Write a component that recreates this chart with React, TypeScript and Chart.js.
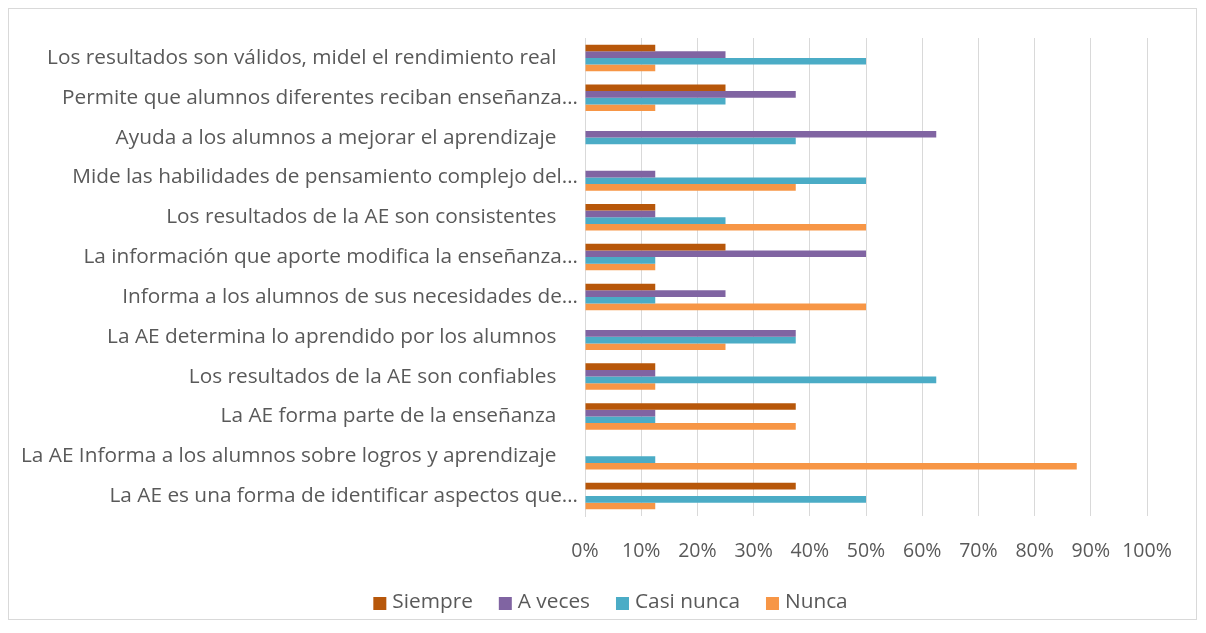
import React, { useEffect, useRef } from "react";
import { Chart, registerables } from "chart.js";

Chart.register(...registerables);

const categories: string[] = [
  "Los resultados son válidos, midel el rendimiento real ",
  "Permite que alumnos diferentes reciban enseñanza…",
  "Ayuda a los alumnos a mejorar el aprendizaje ",
  "Mide las habilidades de pensamiento complejo del…",
  "Los resultados de la AE son consistentes ",
  "La información que aporte modifica la enseñanza…",
  "Informa a los alumnos de sus necesidades de…",
  "La AE determina lo aprendido por los alumnos ",
  "Los resultados de la AE son confiables ",
  "La AE forma parte de la enseñanza ",
  "La AE Informa a los alumnos sobre logros y aprendizaje ",
  "La AE es una forma de identificar aspectos que…",
];

const siempre: number[] = [12.5, 25, 0, 0, 12.5, 25, 12.5, 0, 12.5, 37.5, 0, 37.5];
const aVeces: number[] = [25, 37.5, 62.5, 12.5, 12.5, 50, 25, 37.5, 12.5, 12.5, 0, 0];
const casiNunca: number[] = [50, 25, 37.5, 50, 25, 12.5, 12.5, 37.5, 62.5, 12.5, 12.5, 50];
const nunca: number[] = [12.5, 12.5, 0, 37.5, 50, 12.5, 50, 25, 12.5, 37.5, 87.5, 12.5];

const seriesNames: string[] = ["Siempre", "A veces", "Casi nunca", "Nunca"];
const seriesColors: string[] = ["#B7570A", "#8064A2", "#4BACC6", "#F79646"];
const xTicks: number[] = [0, 10, 20, 30, 40, 50, 60, 70, 80, 90, 100];

const FONT = "'Open Sans', sans-serif";
const TEXT = "#595959";
const TICK_SIZE = 19.5;
const LABEL_SIZE = 20.8;

const bottomLegend = {
  id: "bottomLegend",
  afterDraw(chart: any) {
    const ctx = chart.ctx;
    ctx.save();
    ctx.font = `${LABEL_SIZE}px ${FONT}`;
    ctx.textBaseline = "middle";
    ctx.textAlign = "left";
    const box = 13;
    const gapText = 6;
    const gapItem = 26;
    const items = chart.data.datasets.map((d: any) => ({
      label: d.label as string,
      color: d.backgroundColor as string,
      w: ctx.measureText(d.label).width,
    }));
    const total =
      items.reduce((s: number, it: any) => s + box + gapText + it.w, 0) +
      gapItem * (items.length - 1);
    let x = chart.width / 2 + 8 - total / 2;
    const y = 593;
    for (const it of items) {
      ctx.fillStyle = it.color;
      ctx.fillRect(x, y - 5, box, box);
      x += box + gapText;
      ctx.fillStyle = TEXT;
      ctx.fillText(it.label, x, y);
      x += it.w + gapItem;
    }
    ctx.restore();
  },
};

export default function App() {
  const canvasRef = useRef<HTMLCanvasElement | null>(null);

  useEffect(() => {
    if (!canvasRef.current) return;
    const values = [siempre, aVeces, casiNunca, nunca];
    const chart = new Chart(canvasRef.current, {
      type: "bar",
      data: {
        labels: categories,
        datasets: seriesNames.map((name, i) => ({
          label: name,
          data: values[i],
          backgroundColor: seriesColors[i],
          borderWidth: 0,
          categoryPercentage: 0.667,
          barPercentage: 1,
        })),
      },
      plugins: [bottomLegend],
      options: {
        indexAxis: "y",
        animation: false,
        responsive: true,
        maintainAspectRatio: false,
        layout: { padding: { top: 29, right: 49, left: 0, bottom: 34 } },
        plugins: {
          tooltip: { enabled: false },
          legend: { display: false },
        },
        scales: {
          x: {
            min: 0,
            max: 100,
            afterBuildTicks: (scale: any) => {
              scale.ticks = xTicks.map((v) => ({ value: v }));
            },
            afterFit: (scale: any) => {
              scale.height = 69;
            },
            ticks: {
              color: TEXT,
              font: { family: FONT, size: TICK_SIZE },
              padding: 24,
              callback: (v: any) => v + "%",
            },
            grid: { color: "#D9D9D9", lineWidth: 1, drawTicks: false },
            border: { display: false },
          },
          y: {
            afterFit: (scale: any) => {
              scale.width = 576;
            },
            ticks: {
              color: TEXT,
              font: { family: FONT, size: LABEL_SIZE },
              padding: 7,
              autoSkip: false,
              callback: function (this: any, v: any) {
                const s = this.getLabelForValue(v) as string;
                return s.endsWith(" ") ? s + "   " : s;
              },
            },
            grid: { display: false, drawTicks: false },
            border: { display: true, color: "#D9D9D9", width: 1 },
          },
        },
      },
    });
    return () => chart.destroy();
  }, []);

  return (
    <div
      style={{
        width: 1187,
        height: 610,
        border: "1px solid #D9D9D9",
        background: "#fff",
        position: "relative",
      }}
    >
      <canvas ref={canvasRef} />
    </div>
  );
}
